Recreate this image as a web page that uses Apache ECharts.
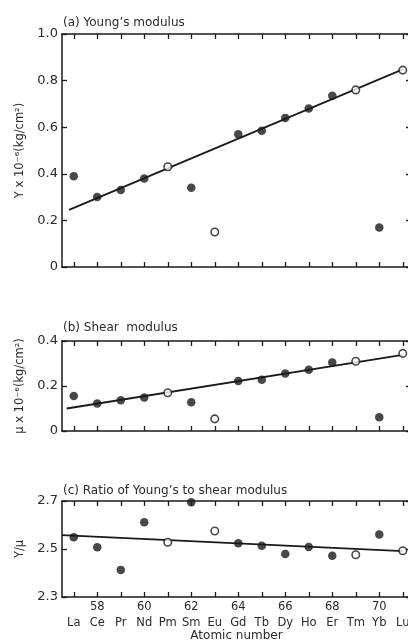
<!DOCTYPE html>
<html>
<head>
<meta charset="utf-8">
<script src="https://cdn.jsdelivr.net/npm/echarts@6/dist/echarts.min.js"></script>
<style>
html,body{margin:0;padding:0;background:#fff;}
#c{width:408px;height:641px;}
</style>
</head>
<body>
<div id="c"></div>
<script>
const elements = ['La','Ce','Pr','Nd','Pm','Sm','Eu','Gd','Tb','Dy','Ho','Er','Tm','Yb','Lu'];
const atomicNumbers = [57,58,59,60,61,62,63,64,65,66,67,68,69,70,71];
const openElements = ['Pm','Eu','Tm','Lu'];
const youngs = [0.39,0.30,0.33,0.38,0.43,0.34,0.15,0.57,0.585,0.64,0.68,0.735,0.76,0.17,0.845];
const shear = [0.156,0.122,0.137,0.149,0.17,0.128,0.054,0.222,0.228,0.256,0.272,0.305,0.31,0.061,0.345];
const ratio = [2.549,2.507,2.413,2.611,2.528,2.695,2.575,2.524,2.514,2.479,2.508,2.472,2.476,2.56,2.493];
const youngsFit = [[56.8,0.245],[71,0.848]];
const shearFit = [[56.7,0.10],[71,0.338]];
const ratioFit = [[56.5,2.558],[71,2.491]];
const yTicksA = [0,0.2,0.4,0.6,0.8,1.0];
const yTicksB = [0,0.2,0.4];
const yTicksC = [2.3,2.5,2.7];

const FONT = 'DejaVu Sans';
const INK = '#1a1a1a';
const TXT = '#2a2a2a';

const grids = [
  {left:62, top:34, width:349, height:233, outerBoundsMode:'none', containLabel:false},
  {left:62, top:341, width:349, height:90, outerBoundsMode:'none', containLabel:false},
  {left:62, top:501, width:349, height:96, outerBoundsMode:'none', containLabel:false}
];

function xAxes(gi, showLabels){
  const base = {
    type:'value', gridIndex:gi, min:56.5, max:71.35,
    splitLine:{show:false},
    axisLine:{show:true, onZero:false, lineStyle:{color:INK, width:1.5}},
    axisTick:{show:true, inside:true, length:5, customValues:atomicNumbers, lineStyle:{color:INK, width:1.3}}
  };
  const bottom = Object.assign({}, base, {
    position:'bottom',
    axisLabel: showLabels ? {
      show:true, customValues:atomicNumbers, margin:2, hideOverlap:false,
      formatter:(v)=>{
        const i = atomicNumbers.indexOf(Math.round(v));
        const num = (Math.round(v)%2===0) ? String(Math.round(v)) : ' ';
        return '{n|'+num+'}\n{s|'+elements[i]+'}';
      },
      rich:{
        n:{fontFamily:FONT, fontSize:11.5, color:TXT, lineHeight:16},
        s:{fontFamily:FONT, fontSize:11.5, color:TXT, lineHeight:16}
      }
    } : {show:false},
    name: showLabels ? 'Atomic number' : '',
    nameLocation:'middle', nameGap:33,
    nameTextStyle:{fontFamily:FONT, fontSize:12, color:TXT}
  });
  const top = Object.assign({}, base, {position:'top', axisLabel:{show:false}});
  return [bottom, top];
}

function yAxes(gi, min, max, ticks, fmt, name, nameGap){
  const base = {
    type:'value', gridIndex:gi, min:min, max:max,
    splitLine:{show:false},
    axisLine:{show:true, onZero:false, lineStyle:{color:INK, width:1.5}},
    axisTick:{show:true, inside:true, length:5, customValues:ticks, lineStyle:{color:INK, width:1.3}}
  };
  const left = Object.assign({}, base, {
    position:'left',
    axisLabel:{show:true, customValues:ticks, margin:4, formatter:fmt,
      fontFamily:FONT, fontSize:13, color:TXT},
    name:name, nameLocation:'middle', nameGap:nameGap, nameRotate:90,
    nameTextStyle:{fontFamily:FONT, fontSize:11.5, color:TXT}
  });
  const right = Object.assign({}, base, {position:'right', axisLabel:{show:false}});
  return [left, right];
}

const xAxis = [].concat(xAxes(0,false), xAxes(1,false), xAxes(2,true));
const yAxis = [].concat(
  yAxes(0,0,1,yTicksA,(v)=> v===0?'0':v.toFixed(1),'Y x 10\u207B\u2076(kg/cm\u00B2)',34),
  yAxes(1,0,0.4,yTicksB,(v)=> v===0?'0':v.toFixed(1),'\u03BC x 10\u207B\u2076(kg/cm\u00B2)',34),
  yAxes(2,2.3,2.7,yTicksC,(v)=> v.toFixed(1),'Y/\u03BC',34)
);

function pts(vals, open){
  const out = [];
  vals.forEach((v,i)=>{
    const isOpen = openElements.indexOf(elements[i])>=0;
    if(isOpen===open) out.push([atomicNumbers[i], v]);
  });
  return out;
}

const series = [];
[[youngs,youngsFit],[shear,shearFit],[ratio,ratioFit]].forEach((pair,gi)=>{
  const xi = gi*2, yi = gi*2;
  series.push({type:'line', xAxisIndex:xi, yAxisIndex:yi, data:pair[1], symbol:'none',
    lineStyle:{color:INK, width:1.8}, silent:true, z:2, animation:false});
  series.push({type:'scatter', xAxisIndex:xi, yAxisIndex:yi, data:pts(pair[0],false),
    symbol:'circle', symbolSize:8.5, itemStyle:{color:INK}, z:3, animation:false});
  series.push({type:'scatter', xAxisIndex:xi, yAxisIndex:yi, data:pts(pair[0],true),
    symbol:'circle', symbolSize:7.5, itemStyle:{color:'#fff', borderColor:INK, borderWidth:1.6}, z:4, animation:false});
});

const chart = echarts.init(document.getElementById('c'), null, {renderer:'canvas'});
chart.setOption({
  backgroundColor:'#fff',
  animation:false,
  title:[
    {text:'(a) Young\u2019s modulus', left:58, top:12, textStyle:{fontFamily:FONT, fontSize:12, fontWeight:'normal', color:TXT}},
    {text:'(b) Shear  modulus', left:58, top:317, textStyle:{fontFamily:FONT, fontSize:12, fontWeight:'normal', color:TXT}},
    {text:'(c) Ratio of Young\u2019s to shear modulus', left:58, top:480, textStyle:{fontFamily:FONT, fontSize:12, fontWeight:'normal', color:TXT}}
  ],
  grid:grids,
  xAxis:xAxis,
  yAxis:yAxis,
  series:series
});
</script>
</body>
</html>
